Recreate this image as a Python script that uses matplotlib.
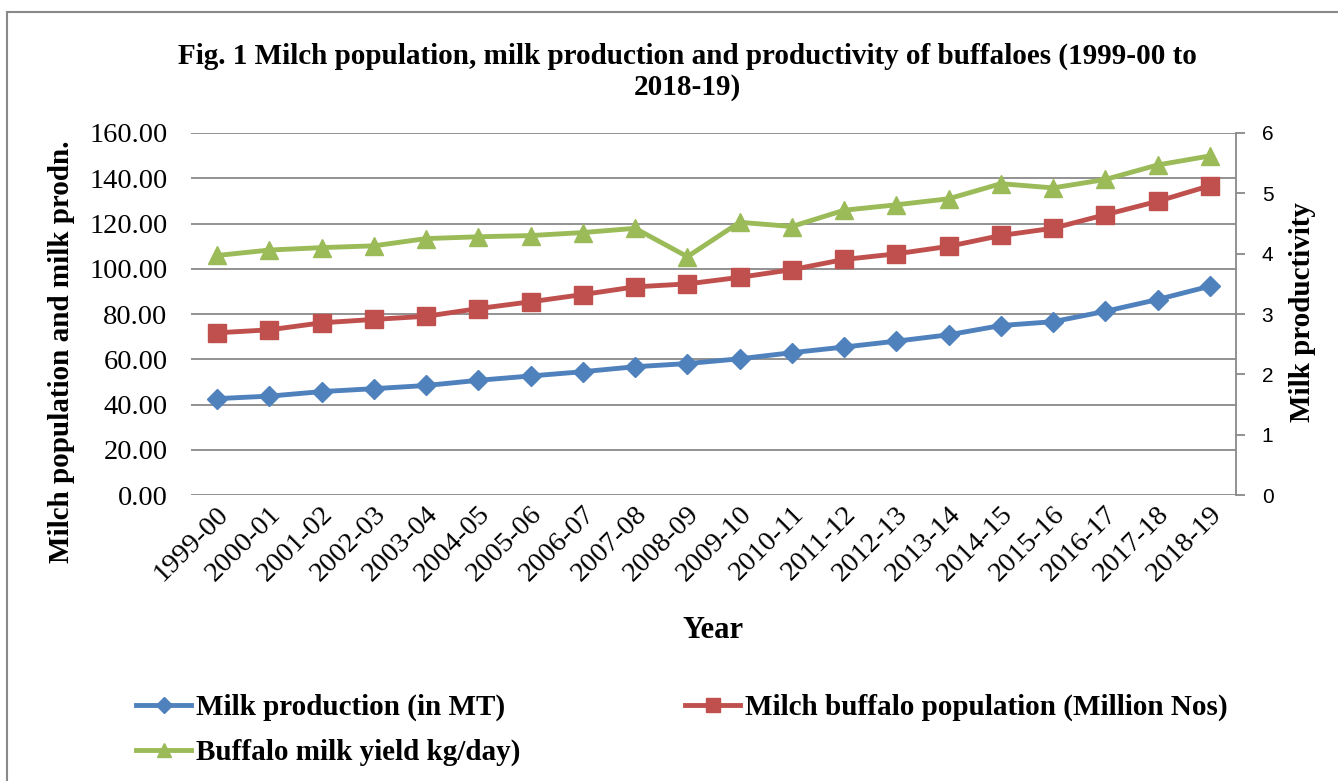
import matplotlib
matplotlib.use('Agg')
import matplotlib.pyplot as plt
from matplotlib.patches import Rectangle
from matplotlib.ticker import FormatStrFormatter
from matplotlib.transforms import ScaledTranslation

years = ['1999-00', '2000-01', '2001-02', '2002-03', '2003-04', '2004-05', '2005-06',
         '2006-07', '2007-08', '2008-09', '2009-10', '2010-11', '2011-12', '2012-13',
         '2013-14', '2014-15', '2015-16', '2016-17', '2017-18', '2018-19']
milk_prod = [42.6, 43.7, 45.7, 47.0, 48.4, 50.7, 52.6, 54.5, 56.7, 58.1,
             60.2, 62.9, 65.4, 68.0, 70.8, 74.9, 76.6, 81.2, 86.4, 92.3]
buffalo_pop = [71.7, 73.0, 76.1, 77.6, 79.0, 82.4, 85.4, 88.6, 92.0, 93.3,
               96.2, 99.6, 104.1, 106.6, 109.9, 114.7, 117.9, 123.9, 129.8, 136.7]
milk_yield = [3.97, 4.06, 4.10, 4.13, 4.25, 4.28, 4.30, 4.35, 4.42, 3.95,
              4.52, 4.45, 4.72, 4.81, 4.91, 5.16, 5.09, 5.23, 5.47, 5.62]

plt.rcParams['font.family'] = ['Liberation Serif', 'DejaVu Serif']

blue = '#4F81BD'
red = '#C0504D'
green = '#9BBB59'
grid_c = '#898989'

W, H = 1338, 781
fig = plt.figure(figsize=(W / 100, H / 100), dpi=100)
ax = fig.add_axes([191 / W, 1 - 495 / H, (1236 - 191) / W, (495 - 133) / H])
ax2 = ax.twinx()

x = list(range(len(years)))
l1, = ax.plot(x, milk_prod, color=blue, lw=3.5, marker='D', ms=10.5, label='Milk production (in MT)')
l2, = ax.plot(x, buffalo_pop, color=red, lw=3.5, marker='s', ms=13.5, label='Milch buffalo population (Million Nos)')
l3, = ax2.plot(x, milk_yield, color=green, lw=3.5, marker='^', ms=13.5, label='Buffalo milk yield kg/day)')

ax.set_xlim(-0.5, len(years) - 0.5)
ax.set_ylim(0, 160)
ax.set_yticks(range(0, 161, 20))
ax.yaxis.set_major_formatter(FormatStrFormatter('%.2f'))
ax.grid(axis='y', color=grid_c, lw=1.3)
ax.set_axisbelow(True)
ax2.set_ylim(0, 6)
ax2.set_yticks(range(0, 7))

for s in ['top', 'left', 'bottom', 'right']:
    ax.spines[s].set_visible(False)
for s in ['top', 'left', 'bottom']:
    ax2.spines[s].set_visible(False)
ax2.spines['right'].set_color(grid_c)
ax2.spines['right'].set_linewidth(1.3)

ax.tick_params(axis='y', length=0, labelsize=20.5, pad=17)
ax.tick_params(axis='x', length=0, labelsize=20.5, pad=11)
ax2.tick_params(axis='y', length=6.5, color=grid_c, width=1.3, labelsize=15, pad=12)
for t in ax2.get_yticklabels():
    t.set_fontfamily('Liberation Sans')

ax.set_xticks(x)
ax.set_xticklabels(years, rotation=45, ha='right', va='center', rotation_mode='anchor')
shift = ScaledTranslation(8 / 100, 0, fig.dpi_scale_trans)
for t in ax.get_xticklabels():
    t.set_transform(t.get_transform() + shift)

fig.text(62 / W, 1 - 352 / H, 'Milch population and milk prodn.', rotation=90,
         ha='center', va='center', fontsize=21, fontweight='bold')
fig.text(1303 / W, 1 - 312 / H, 'Milk productivity', rotation=90,
         ha='center', va='center', fontsize=21, fontweight='bold')
fig.text(713 / W, 1 - 631 / H, 'Year', ha='center', va='center', fontsize=22, fontweight='bold')

fig.text(687 / W, 1 - 72 / H, 'Fig. 1 Milch population, milk production and productivity of buffaloes (1999-00 to\n2018-19)',
         ha='center', va='center', fontsize=21, fontweight='bold', linespacing=1.15)

# legend fills column-wise, so order handles to get Excel's row layout
fig.legend([l1, l3, l2], [l1.get_label(), l3.get_label(), l2.get_label()],
           loc='upper left', bbox_to_anchor=(136 / W, 1 - 694 / H), ncol=2, frameon=False,
           borderpad=0, borderaxespad=0,
           prop={'weight': 'bold', 'size': 21}, handlelength=1.9, handletextpad=0.15,
           columnspacing=5.65, labelspacing=0.6, markerscale=0.75)

fig.patches.append(Rectangle((7 / W, -0.05), 1.1, 1 - 12 / H + 0.05, transform=fig.transFigure,
                             fill=False, edgecolor=grid_c, lw=1.5))

fig.savefig('out.png', dpi=100)
